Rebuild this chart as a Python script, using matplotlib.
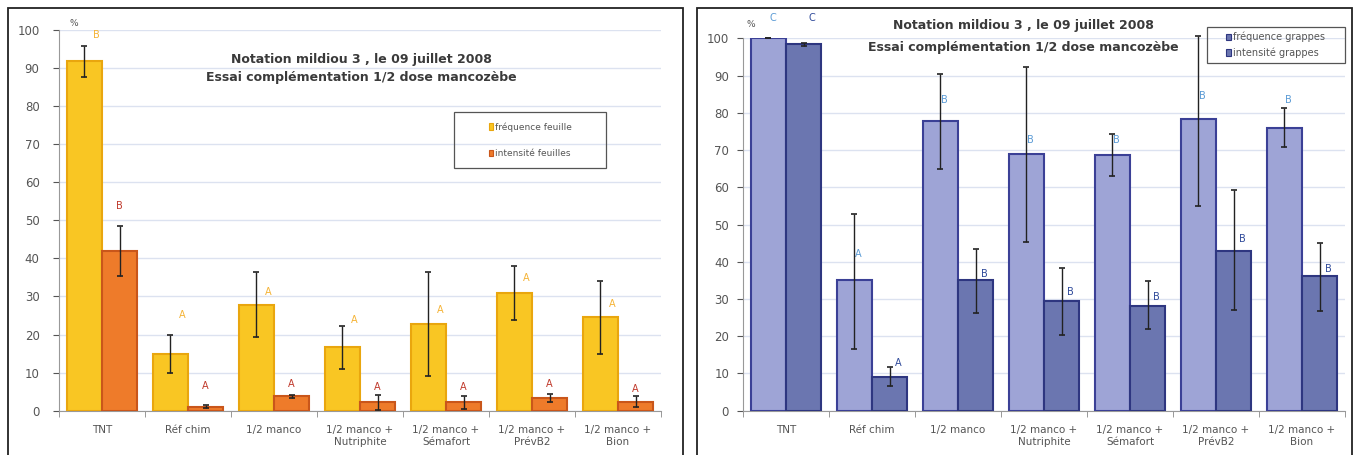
import numpy as np
import matplotlib.pyplot as plt
from matplotlib.patches import Rectangle

# données
cats = ["TNT", "Réf chim", "1/2 manco", "1/2 manco +\nNutriphite",
        "1/2 manco +\nSémafort", "1/2 manco +\nPrévB2", "1/2 manco +\nBion"]

# feuilles (gauche)
freq_f = [91.8, 15.0, 27.8, 16.8, 22.8, 30.9, 24.6]
freq_f_lo = [87.5, 10.0, 19.3, 11.0, 9.0, 23.8, 15.0]
freq_f_hi = [95.8, 20.0, 36.5, 22.3, 36.4, 38.0, 34.0]
int_f = [41.8, 1.1, 3.9, 2.3, 2.3, 3.4, 2.3]
int_f_lo = [35.4, 0.7, 3.4, 0.3, 0.4, 2.2, 1.0]
int_f_hi = [48.5, 1.6, 4.0, 4.0, 3.8, 4.5, 3.9]
let_ff = ["B", "A", "A", "A", "A", "A", "A"]
let_ff_y = [98.6, 25.1, 31.2, 23.8, 26.4, 34.8, 28.0]
let_if = ["B", "A", "A", "A", "A", "A", "A"]
let_if_y = [53.8, 6.5, 7.1, 6.3, 6.3, 6.9, 5.7]

# grappes (droite)
freq_g = [100.0, 35.0, 77.7, 69.0, 68.7, 78.2, 76.0]
freq_g_lo = [100.0, 16.7, 65.0, 45.3, 63.0, 55.0, 70.8]
freq_g_hi = [100.0, 52.7, 90.3, 92.4, 74.2, 100.5, 81.2]
int_g = [98.4, 9.0, 35.0, 29.5, 28.1, 43.0, 36.1]
int_g_lo = [97.9, 6.6, 26.3, 20.4, 21.9, 27.0, 26.7]
int_g_hi = [98.8, 11.8, 43.4, 38.3, 34.8, 59.3, 45.0]
let_fg = ["C", "A", "B", "B", "B", "B", "B"]
let_fg_y = [105.5, 42.0, 83.3, 72.8, 72.8, 84.4, 83.5]
let_ig = ["C", "A", "B", "B", "B", "B", "B"]
let_ig_y = [105.5, 12.8, 36.8, 32.0, 30.4, 46.0, 38.0]

titre1 = "Notation mildiou 3 , le 09 juillet 2008"
titre2 = "Essai complémentation 1/2 dose mancozèbe"

W, H = 1360, 455
fig = plt.figure(figsize=(13.6, 4.55), dpi=100)

def px(x0, y0, x1, y1):
    # rectangle en pixels (origine en haut) -> coordonnées figure
    return [x0 / W, 1 - y1 / H, (x1 - x0) / W, (y1 - y0) / H]

for r in [px(8, 8, 683, 470), px(697, 8, 1352, 470)]:
    fig.patches.append(Rectangle((r[0], r[1]), r[2], r[3], transform=fig.transFigure,
                                 fill=False, edgecolor="#222222", lw=1.3))

def panel(ax, f, flo, fhi, it, ilo, ihi, lf, lfy, li, liy, cf, ef, ci, ei, tcf, tci,
          offs, ypad, tx, ty, pct):
    x = np.arange(len(cats))
    w = 0.41
    f = np.array(f); it = np.array(it)
    ax.bar(x - w/2, f, w, color=cf, edgecolor=ef, lw=1.5, zorder=3)
    ax.bar(x + w/2, it, w, color=ci, edgecolor=ei, lw=1.5, zorder=3)
    ax.errorbar(x - w/2, f, yerr=[f - np.array(flo), np.array(fhi) - f], fmt="none",
                ecolor="#222222", elinewidth=1, capsize=2.5, capthick=1.2, zorder=4, clip_on=False)
    ax.errorbar(x + w/2, it, yerr=[it - np.array(ilo), np.array(ihi) - it], fmt="none",
                ecolor="#222222", elinewidth=1, capsize=2.5, capthick=1.2, zorder=4, clip_on=False)
    for i in range(len(cats)):
        ax.text(x[i] - w/2 + offs[0], lfy[i], lf[i], color=tcf, fontsize=7, ha="center", va="center", clip_on=False)
        ax.text(x[i] + w/2 + offs[1], liy[i], li[i], color=tci, fontsize=7, ha="center", va="center", clip_on=False)
    ax.set_xlim(-0.5, len(cats) - 0.5)
    ax.set_ylim(0, 100)
    ax.set_yticks(range(0, 101, 10))
    ax.yaxis.grid(True, color="#dce2f0", lw=1, zorder=0)
    ax.set_xticks(x)
    ax.set_xticklabels(cats, fontsize=7.5, color="#555555", linespacing=1.3)
    ax.set_xticks(np.arange(-0.5, len(cats)), minor=True)
    ax.tick_params(axis="x", which="major", length=0, pad=10)
    ax.tick_params(axis="x", which="minor", length=4, color="#888888")
    ax.tick_params(axis="y", labelsize=8.5, colors="#555555", length=4, pad=ypad)
    for s in ["top", "right"]:
        ax.spines[s].set_visible(False)
    ax.spines["left"].set_color("#999999")
    ax.spines["bottom"].set_color("#999999")
    ax.text(pct[0], pct[1], "%", fontsize=6.5, color="#555555", clip_on=False, va="center")
    for t, yy in [(titre1, ty[0]), (titre2, ty[1])]:
        fig.text(tx / W, 1 - yy / H, t, ha="center", va="center",
                 fontsize=9, fontweight="bold", color="#3a3a3a")

def legende(box, lx, ly, labels, colors, edges, spacing, fs):
    r = px(*box)
    fig.patches.append(Rectangle((r[0], r[1]), r[2], r[3], transform=fig.transFigure,
                                 fill=False, edgecolor="#555555", lw=0.9))
    hs = [Rectangle((0, 0), 1, 1, facecolor=c, edgecolor=e, lw=0.8) for c, e in zip(colors, edges)]
    fig.legend(hs, labels, loc="center left", bbox_to_anchor=(lx / W, 1 - ly / H), frameon=False,
               fontsize=fs, handlelength=0.55, handleheight=0.7, handletextpad=0.2,
               labelspacing=spacing, borderpad=0, labelcolor="#555555")

ax1 = fig.add_axes(px(59, 29.7, 661, 410.7))
panel(ax1, freq_f, freq_f_lo, freq_f_hi, int_f, int_f_lo, int_f_hi,
      let_ff, let_ff_y, let_if, let_if_y,
      "#f9c623", "#e9a60e", "#ee7b2a", "#c9561a", "#f5b335", "#c0392b",
      (0.14, 0.0), 10, 361, (60, 78), (-0.38, 101.5))
legende((454, 112, 606, 168), 484, 140, ["fréquence feuille", "intensité feuilles"],
        ["#f9c623", "#ee7b2a"], ["#e9a60e", "#c9561a"], 1.9, 6.5)

ax2 = fig.add_axes(px(743, 38.3, 1345, 410.7))
panel(ax2, freq_g, freq_g_lo, freq_g_hi, int_g, int_g_lo, int_g_hi,
      let_fg, let_fg_y, let_ig, let_ig_y,
      "#9ea4d6", "#3b4096", "#6b76b0", "#2e3680", "#5b9bd5", "#2f4a9a",
      (0.05, 0.1), 6, 1023, (26, 47.5), (-0.46, 103.8))
legende((1207, 27, 1345, 63), 1221, 45, ["fréquence grappes", "intensité grappes"],
        ["#6b76b0", "#6b76b0"], ["#2e3680", "#2e3680"], 0.55, 7)

fig.savefig("out.png", dpi=100)
